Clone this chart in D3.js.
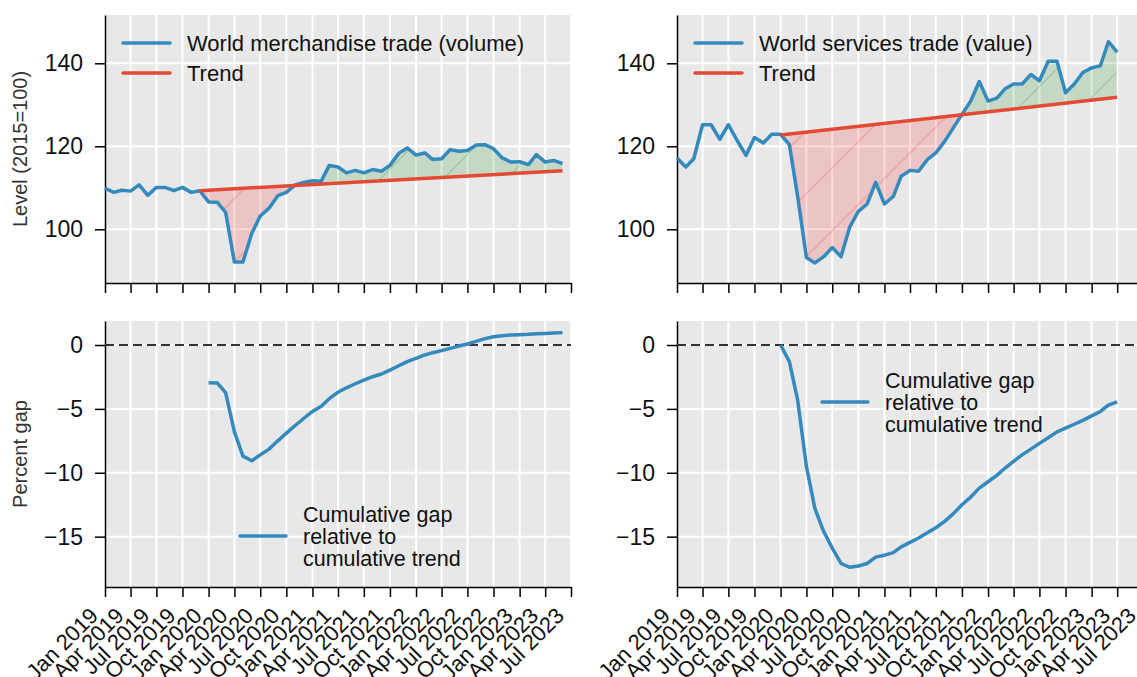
<!DOCTYPE html>
<html>
<head>
<meta charset="utf-8">
<script src="https://cdn.jsdelivr.net/npm/d3@7"></script>
<style>
  body { margin: 0; background: #fff; }
  svg { font-family: "Liberation Sans", Arial, Helvetica, sans-serif; display: block; }
</style>
</head>
<body>
<div id="chart"></div>
<script>

// ---- data ----
// monthly, Jan 2019 .. Jun 2023
let merchVolume = [
  109.9, 108.9, 109.4, 109.2, 110.7, 108.2, 110.1, 110.1, 109.3, 110.1, 108.9, 109.3,
  106.6, 106.5, 104.1, 92.1, 92.1, 99.0, 103.2, 105.1, 108.1, 108.9, 110.7, 111.3,
  111.7, 111.6, 115.4, 115.0, 113.6, 114.2, 113.6, 114.4, 114.0, 115.4, 118.3, 119.6,
  117.9, 118.4, 116.8, 117.0, 119.2, 118.8, 119.0, 120.3, 120.4, 119.4, 117.2, 116.2,
  116.3, 115.6, 118.0, 116.2, 116.6, 115.8
];
// monthly, Jan 2019 .. Apr 2023
let servicesValue = [
  117.2, 115.0, 117.0, 125.2, 125.2, 121.7, 125.2, 121.4, 117.8, 122.1, 120.8, 122.9,
  122.9, 120.4, 108.0, 93.2, 91.9, 93.4, 95.6, 93.4, 100.6, 104.3, 106.1, 111.3,
  106.1, 107.9, 112.8, 114.2, 114.0, 116.8, 118.4, 121.2, 124.5, 127.7, 130.9, 135.6,
  130.9, 131.6, 133.8, 135.0, 135.0, 137.3, 135.8, 140.5, 140.5, 132.9, 135.0, 137.8,
  138.9, 139.4, 145.2, 142.7
];
// straight trend lines: value at first and last month
let merchTrendDates = [new Date(2019, 11, 1), new Date(2023, 5, 1)];
let merchTrend = [109.3, 114.1];
let servicesTrendDates = [new Date(2020, 0, 1), new Date(2023, 3, 1)];
let servicesTrend = [122.7, 131.8];

// cumulative gap (%), monthly from Jan 2020
let merchGap = [
  -2.95, -2.98, -3.73, -6.8, -8.7, -9.06, -8.6, -8.15, -7.5, -6.9, -6.3, -5.75,
  -5.2, -4.8, -4.2, -3.7, -3.35, -3.03, -2.74, -2.48, -2.27, -1.96, -1.62, -1.3,
  -1.04, -0.78, -0.6, -0.44, -0.26, -0.08, 0.08, 0.29, 0.5, 0.65, 0.73, 0.78,
  0.81, 0.84, 0.89, 0.91, 0.94, 0.97
];
let servicesGap = [
  0, -1.3, -4.3, -9.5, -12.8, -14.6, -15.9, -17.1, -17.4, -17.3, -17.1, -16.6,
  -16.45, -16.25, -15.8, -15.45, -15.1, -14.7, -14.3, -13.8, -13.2, -12.5, -11.9, -11.2,
  -10.7, -10.2, -9.65, -9.1, -8.6, -8.15, -7.7, -7.26, -6.8, -6.5, -6.2, -5.9,
  -5.55, -5.2, -4.7, -4.45
];

let levelTicks = [100, 120, 140];
let gapTicks = [0, -5, -10, -15];
let tickDates = d3.timeMonth.range(new Date(2019, 0, 1), new Date(2023, 6, 2), 3);
let fmtDate = d3.timeFormat("%b %Y");

let merchLabel = "World merchandise trade (volume)";
let servicesLabel = "World services trade (value)";
let gapLabel = ["Cumulative gap", "relative to", "cumulative trend"];

// ---- layout ----
let w = 1137;
let h = 677;
let blue = "#348ABD";
let red = "#E24A33";
let bg = "#E8E8E8";

let colX = [105, 677];
let panelW = 466;

let months = d3.timeMonth.range(new Date(2019, 0, 1), new Date(2023, 6, 1));
let gapStart = new Date(2020, 0, 1);

let yLevel = d3.scaleLinear().domain([87.06, 151.64]).range([283, 15]);
let yGap = d3.scaleLinear().domain([-18.94, 1.88]).range([587, 321]);

function xFor(col){
	return d3.scaleTime()
		.domain([new Date(2019, 0, 1), new Date(2023, 6, 1)])
		.range([colX[col], colX[col] + panelW]);
}

let viz = d3.select("#chart").append("svg")
	.attr("width", w)
	.attr("height", h)
	.style("background-color", "white")
;

let defs = viz.append("defs");

// faint "/" hatching like matplotlib's hatch='/'
function hatch(id, color){
	defs.append("pattern")
		.attr("id", id)
		.attr("patternUnits", "userSpaceOnUse")
		.attr("width", 63)
		.attr("height", 63)
		.attr("patternTransform", "translate(55,0)")
		.append("line")
			.attr("x1", -2).attr("y1", 65)
			.attr("x2", 65).attr("y2", -2)
			.attr("stroke", color)
			.attr("stroke-opacity", 0.18)
			.attr("stroke-width", 1.5)
	;
}
hatch("hatchRed", "red");
hatch("hatchGreen", "green");


function frame(g, x, y, yTicks, showLabels){
	let [x0, x1] = x.range();
	let [yb, yt] = y.range();

	g.append("rect")
		.attr("x", x0).attr("y", yt)
		.attr("width", x1 - x0).attr("height", yb - yt)
		.attr("fill", bg)
	;
	g.selectAll(".vgrid").data(tickDates).join("line")
		.attr("class", "vgrid")
		.attr("x1", d => x(d)).attr("x2", d => x(d))
		.attr("y1", yt).attr("y2", yb)
		.attr("stroke", "white").attr("stroke-width", 2)
	;
	g.selectAll(".hgrid").data(yTicks).join("line")
		.attr("class", "hgrid")
		.attr("x1", x0).attr("x2", x1)
		.attr("y1", d => y(d)).attr("y2", d => y(d))
		.attr("stroke", "white").attr("stroke-width", 2)
	;

	let yAxis = g.append("g")
		.attr("transform", "translate(" + x0 + ",0)")
		.call(d3.axisLeft(y).tickValues(yTicks).tickSize(10).tickSizeOuter(0).tickPadding(12).tickFormat(d3.format("d")))
	;
	let xAxis = g.append("g")
		.attr("transform", "translate(0," + yb + ")")
		.call(d3.axisBottom(x).tickValues(tickDates).tickSize(10).tickSizeOuter(0)
			.tickFormat(showLabels ? fmtDate : ""))
	;
	[yAxis, xAxis].forEach(function(a){
		a.attr("font-family", null).attr("font-size", null);
		a.select(".domain").attr("stroke", "black").attr("stroke-width", 1.5);
		a.selectAll(".tick line").attr("stroke", "black").attr("stroke-width", 1.5);
		a.selectAll(".tick text").attr("fill", "#111");
	});
	yAxis.selectAll(".tick text").attr("font-size", 23);
	if (showLabels){
		xAxis.selectAll(".tick text")
			.attr("font-size", 22)
			.attr("x", 0).attr("y", 0).attr("dy", null)
			.attr("text-anchor", "end")
			.attr("transform", "translate(-6,30) rotate(-45)")
		;
	}
}


function levelPanel(col, values, trendDates, trendValues, label){
	let x = xFor(col);
	let y = yLevel;
	let g = viz.append("g").attr("class", "levelPanel");
	frame(g, x, y, levelTicks, false);

	let [yb, yt] = y.range();
	let pts = values.map((v, i) => ({date: months[i], value: v}));
	let trendAt = d3.scaleTime().domain(trendDates).range(trendValues);
	let trendPts = trendDates.map((d, i) => ({date: d, value: trendValues[i]}));
	let fillPts = pts.filter(d => d.date >= trendDates[0] && d.date <= trendDates[1]);

	// clip regions below / above the trend line
	let below = d3.area().x(d => x(d.date)).y0(yb).y1(d => y(d.value));
	let above = d3.area().x(d => x(d.date)).y0(yt).y1(d => y(d.value));
	let cid = "c" + col;
	defs.append("clipPath").attr("id", cid + "below").append("path").attr("d", below(trendPts));
	defs.append("clipPath").attr("id", cid + "above").append("path").attr("d", above(trendPts));

	let gapArea = d3.area()
		.x(d => x(d.date))
		.y0(d => y(trendAt(d.date)))
		.y1(d => y(d.value))
	;
	[["below", "red", "hatchRed"], ["above", "green", "hatchGreen"]].forEach(function(s){
		let fg = g.append("g").attr("clip-path", "url(#" + cid + s[0] + ")");
		fg.append("path").attr("d", gapArea(fillPts)).attr("fill", s[1]).attr("fill-opacity", 0.15);
		fg.append("path").attr("d", gapArea(fillPts)).attr("fill", "url(#" + s[2] + ")");
	});

	let line = d3.line().x(d => x(d.date)).y(d => y(d.value));
	g.append("path")
		.attr("d", line(pts))
		.attr("fill", "none").attr("stroke", blue).attr("stroke-width", 3.5)
		.attr("stroke-linejoin", "round")
	;
	g.append("path")
		.attr("d", line(trendPts))
		.attr("fill", "none").attr("stroke", red).attr("stroke-width", 3.5)
	;

	// legend
	let lx = colX[col];
	let items = [[label, blue, 43], ["Trend", red, 73]];
	items.forEach(function(it){
		g.append("line")
			.attr("x1", lx + 18).attr("x2", lx + 65)
			.attr("y1", it[2]).attr("y2", it[2])
			.attr("stroke", it[1]).attr("stroke-width", 3.5).attr("stroke-linecap", "round");
		g.append("text")
			.attr("x", lx + 82).attr("y", it[2])
			.attr("dy", "0.36em")
			.attr("font-size", 22).attr("fill", "#111")
			.text(it[0]);
	});
}


function gapPanel(col, values, legendPos){
	let x = xFor(col);
	let y = yGap;
	let g = viz.append("g").attr("class", "gapPanel");
	frame(g, x, y, gapTicks, true);

	let [x0, x1] = x.range();
	g.append("line")
		.attr("x1", x0).attr("x2", x1)
		.attr("y1", y(0)).attr("y2", y(0))
		.attr("stroke", "#333").attr("stroke-width", 2).attr("stroke-dasharray", "9,5")
	;
	let first = months.findIndex(d => +d === +gapStart);
	let pts = values.map((v, i) => ({date: months[first + i], value: v}));
	let line = d3.line().x(d => x(d.date)).y(d => y(d.value));
	g.append("path")
		.attr("d", line(pts))
		.attr("fill", "none").attr("stroke", blue).attr("stroke-width", 3.5)
		.attr("stroke-linejoin", "round")
	;

	// legend
	let [lx, ly] = legendPos;
	g.append("line")
		.attr("x1", lx).attr("x2", lx + 46)
		.attr("y1", ly).attr("y2", ly)
		.attr("stroke", blue).attr("stroke-width", 3.5).attr("stroke-linecap", "round");
	g.append("text")
		.attr("font-size", 21.5).attr("fill", "#111")
		.selectAll("tspan").data(gapLabel).join("tspan")
			.attr("x", lx + 63)
			.attr("y", (d, i) => ly + (i - 1) * 21.8)
			.attr("dy", "0.36em")
			.text(d => d)
	;
}


levelPanel(0, merchVolume, merchTrendDates, merchTrend, merchLabel);
levelPanel(1, servicesValue, servicesTrendDates, servicesTrend, servicesLabel);
gapPanel(0, merchGap, [240, 536]);
gapPanel(1, servicesGap, [822, 402]);

// y axis titles
[["Level (2015=100)", 149], ["Percent gap", 454]].forEach(function(t){
	viz.append("text")
		.attr("transform", "translate(20," + t[1] + ") rotate(-90)")
		.attr("text-anchor", "middle")
		.attr("dy", "0.36em")
		.attr("font-size", 20)
		.attr("fill", "#333")
		.text(t[0]);
});

</script>
</body>
</html>
